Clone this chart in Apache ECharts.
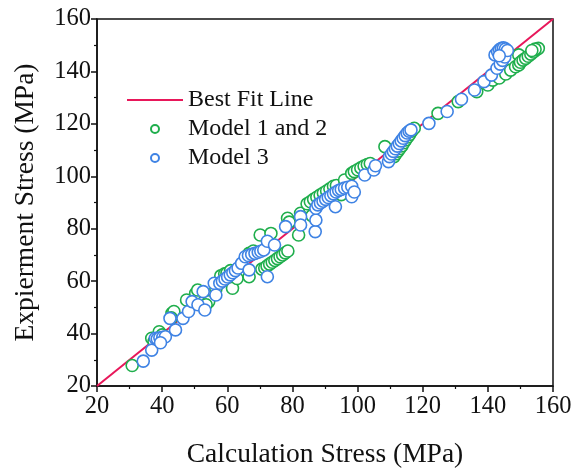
<!DOCTYPE html>
<html><head><meta charset="utf-8">
<script src="https://cdn.jsdelivr.net/npm/echarts@6/dist/echarts.min.js"></script>
<style>html,body{margin:0;padding:0;background:#fff}#c{width:574px;height:471px}</style>
</head><body><div id="c"></div>
<script>
var xTicks = [20, 40, 60, 80, 100, 120, 140, 160];
var yTicks = [20, 40, 60, 80, 100, 120, 140, 160];
var bestFit = [[20, 20], [160, 160]];
var model12 = [
 [30.8,27.8],[36.8,38.2],[37.5,37.0],[39.1,40.7],[40.0,39.5],[43.0,47.7],[43.6,48.4],[42.8,46.0],
 [47.5,52.8],[50.3,55.4],[50.9,56.6],[54.3,52.2],[53.5,51.0],[56.5,57.0],[58.0,62.0],[59.2,62.8],
 [59.9,63.0],[61.0,64.0],[61.6,57.3],[63.0,61.0],[66.7,61.7],[66.7,70.6],[68.0,71.5],[70.1,77.6],
 [73.4,78.2],[70.6,64.6],
 [71.5,65.0],[72.2,65.8],[73.0,66.5],[73.8,67.2],[74.6,67.9],[75.4,68.6],[76.2,69.3],[77.0,70.0],
 [77.8,70.8],[78.6,71.5],
 [78.5,84.0],[79.0,82.5],[81.9,77.6],[82.5,85.9],[85.3,87.8],[86.0,85.0],
 [84.5,89.5],[85.5,90.3],[86.5,91.2],[87.5,92.0],[88.5,92.8],[89.5,93.6],[90.5,94.4],[91.5,95.2],
 [92.6,96.2],[93.5,96.5],[95.0,93.0],[96.0,98.6],[98.2,101.1],
 [99.0,101.8],[100.0,102.5],[101.0,103.2],[102.0,103.9],[103.0,104.5],[103.9,104.9],
 [108.4,111.3],
 [111.2,107.5],[111.8,108.6],[112.4,109.6],[113.0,110.6],[113.6,111.6],[114.2,112.8],[114.8,113.9],
 [115.4,115.0],[116.0,116.0],[116.6,117.2],[117.4,118.3],
 [124.7,124.0],[130.9,128.5],[136.6,132.3],[140.0,134.8],[141.5,136.7],[143.5,137.5],[145.5,139.0],
 [147.0,140.5],[148.5,141.8],[149.5,142.5],[149.5,146.3],
 [150.0,143.5],[150.8,144.3],[151.6,145.0],[152.4,145.8],[153.2,146.6],[154.0,147.4],[154.8,148.2],
 [155.5,148.8],[154.5,148.5],[153.5,148.0]
];
var model3 = [
 [34.2,29.5],[36.8,33.7],[37.9,38.2],[38.5,38.0],[39.3,38.4],[40.2,38.6],[41.0,38.8],[39.5,36.5],
 [42.4,45.8],[44.1,41.4],[46.4,45.8],[48.1,48.4],[49.2,52.2],[51.0,51.0],[53.1,49.0],[52.6,56.0],
 [56.5,54.7],[56.0,59.2],
 [57.7,59.2],[58.5,60.0],[59.3,60.8],[60.1,61.6],[60.9,62.4],[61.7,63.2],[62.5,64.0],[63.3,65.0],
 [64.4,66.8],[66.7,64.3],
 [65.5,69.3],[66.5,69.8],[67.5,70.2],[68.5,70.6],[69.5,71.0],[70.3,71.4],[71.2,71.9],
 [72.3,61.7],[72.3,75.2],[74.5,73.8],[77.9,80.8],[82.5,84.6],[82.5,81.4],[87.0,78.9],[87.2,83.3],
 [87.2,87.8],
 [87.8,89.1],[88.6,89.8],[89.4,90.5],[90.2,91.2],[91.0,91.9],[91.8,92.6],[92.6,93.3],[93.4,94.0],
 [94.2,94.6],[95.0,95.0],[96.0,95.5],[97.0,95.8],[98.2,96.2],
 [93.2,88.4],[98.2,92.2],[99.0,94.0],[102.2,100.5],[105.0,102.4],[105.5,104.0],[109.5,105.6],
 [109.8,107.5],[110.4,108.5],[111.0,109.5],[111.6,110.5],[112.2,111.5],[112.8,112.5],[113.4,113.5],
 [114.0,114.5],[114.6,115.5],[115.2,116.5],[115.8,117.2],[116.4,117.7],
 [121.9,120.2],[127.5,124.7],[131.9,129.4],[135.9,132.9],[138.8,136.1],[141.1,138.6],[142.8,141.2],
 [143.8,142.8],[144.5,144.2],[145.2,145.5],
 [142.2,146.3],[143.0,147.5],[143.6,148.3],[144.2,148.8],[144.8,149.0],[145.4,148.6],[146.0,148.0],
 [143.5,146.0]
];
var names = ['Best Fit Line', 'Model 1 and 2', 'Model 3'];
var xTitle = 'Calculation Stress (MPa)';
var yTitle = 'Expierment Stress (MPa)';

var FONT = 'Liberation Serif';
var GREEN = '#1fae4c', BLUE = '#3f83e4', RED = '#e8175a';
var chart = echarts.init(document.getElementById('c'), null, {renderer: 'canvas'});
function axisCommon(ticks, title, isY) {
  return {
    type: 'value', min: ticks[0], max: ticks[ticks.length - 1], interval: ticks[1] - ticks[0],
    name: title, nameLocation: 'middle', nameGap: isY ? 57 : 55,
    nameTextStyle: {fontFamily: FONT, fontSize: 27.5, color: '#111'},
    axisLine: {show: true, lineStyle: {color: '#111', width: 1.5}},
    axisTick: {show: true, inside: false, length: 6, lineStyle: {color: '#111', width: 1.5}},
    minorTick: {show: true, splitNumber: 2, length: 3, lineStyle: {color: '#111', width: 1.2}},
    axisLabel: {fontFamily: FONT, fontSize: 24.5, color: '#111', margin: isY ? 6 : 8},
    splitLine: {show: false}
  };
}
var xAxis = axisCommon(xTicks, xTitle, false);
var yAxis = axisCommon(yTicks, yTitle, true);
chart.setOption({
  animation: false,
  backgroundColor: '#fff',
  grid: {left: 97, right: 21, top: 19, bottom: 85, containLabel: false, outerBoundsMode: 'none',
         show: true, borderColor: '#111', borderWidth: 1.5, backgroundColor: 'transparent'},
  xAxis: xAxis,
  yAxis: yAxis,
  legend: {
    left: 122, top: 83, orient: 'vertical', itemWidth: 56, itemHeight: 8, itemGap: 5,
    textStyle: {fontFamily: FONT, fontSize: 24, color: '#111'},
    data: [
      {name: names[0], icon: 'path://M0,0H56V2H0Z', itemStyle: {color: RED, borderWidth: 0}},
      {name: names[1], icon: 'circle', itemStyle: {color: '#fff', borderColor: GREEN, borderWidth: 2}},
      {name: names[2], icon: 'circle', itemStyle: {color: '#fff', borderColor: BLUE, borderWidth: 2}}
    ]
  },
  series: [
    {name: names[0], type: 'line', data: bestFit, symbol: 'none', z: 1,
     lineStyle: {color: RED, width: 2}, itemStyle: {color: RED}},
    {name: names[1], type: 'scatter', data: model12, symbol: 'circle', symbolSize: 12, z: 2,
     itemStyle: {color: '#fff', borderColor: GREEN, borderWidth: 1.6, opacity: 1}},
    {name: names[2], type: 'scatter', data: model3, symbol: 'circle', symbolSize: 12, z: 3,
     itemStyle: {color: '#fff', borderColor: BLUE, borderWidth: 1.6, opacity: 1}}
  ]
});
</script></body></html>
